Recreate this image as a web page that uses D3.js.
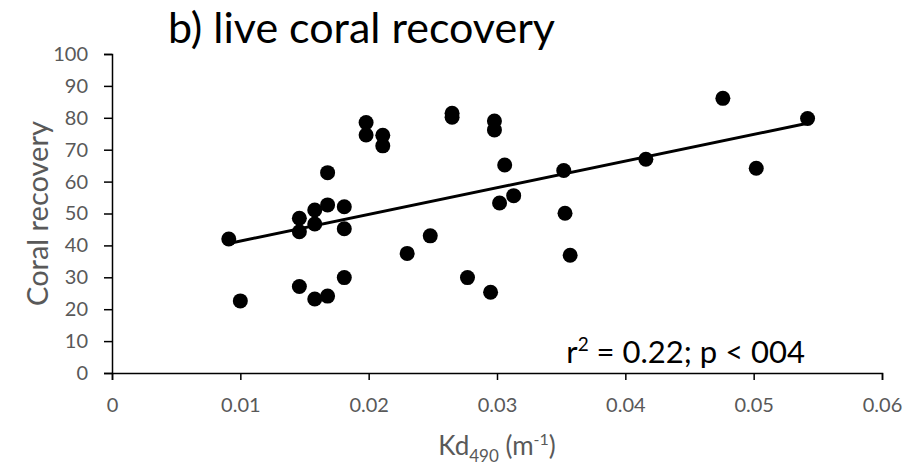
<!DOCTYPE html>
<html>
<head>
<meta charset="utf-8">
<script src="https://cdn.jsdelivr.net/npm/d3@7"></script>
<style>
	body { margin: 0; background: #fff; }
	text { font-family: Lato, "Open Sans", sans-serif; }
	.tick text { fill: #595959; font-size: 20px; }
</style>
</head>
<body>
<div id="chart"></div>
<script>
// Kd490 (m-1) and coral recovery
const kd = [0.0091, 0.0100, 0.0146, 0.0146, 0.0146, 0.0158, 0.0158, 0.0158,
	0.0168, 0.0168, 0.0168, 0.0181, 0.0181, 0.0181, 0.0198, 0.0198, 0.0211,
	0.0211, 0.0230, 0.0248, 0.0265, 0.0265, 0.0277, 0.0295, 0.0298, 0.0298,
	0.0306, 0.0302, 0.0313, 0.0352, 0.0353, 0.0357, 0.0416, 0.0476, 0.0502,
	0.0542];
const recovery = [42.0, 22.6, 48.5, 44.3, 27.1, 51.1, 46.7, 23.2,
	62.8, 52.7, 24.1, 52.1, 45.2, 29.9, 78.5, 74.6, 74.5,
	71.2, 37.5, 43.0, 81.4, 80.2, 29.9, 25.3, 79.0, 76.2,
	65.2, 53.3, 55.6, 63.5, 50.1, 36.9, 67.0, 86.1, 64.2,
	79.8];
const xTicks = [0, 0.01, 0.02, 0.03, 0.04, 0.05, 0.06];
const yTicks = [0, 10, 20, 30, 40, 50, 60, 70, 80, 90, 100];

const width = 908, height = 466;
const margin = {top: 54, right: 26, bottom: 93, left: 112};

const points = kd.map((k, i) => ({k: k, r: recovery[i]}));

const svg = d3.select("#chart")
	.append("svg")
	.attr("width", width)
	.attr("height", height);

let x = d3.scaleLinear()
	.domain([0, 0.06])
	.range([margin.left, width - margin.right]);

let y = d3.scaleLinear()
	.domain([0, 100])
	.range([height - margin.bottom, margin.top]);

// x axis
svg.append("g")
	.attr("transform", `translate(0,${y(0)})`)
	.call(d3.axisBottom(x).tickValues(xTicks).tickFormat(d => d === 0 ? "0" : d3.format(".2f")(d)).tickSize(7).tickSizeOuter(7))
	.call(g => g.select(".domain").attr("stroke", "#000").attr("stroke-width", 1.5))
	.call(g => g.selectAll(".tick line").attr("stroke", "#000").attr("stroke-width", 1.5))
	.call(g => g.selectAll(".tick text").attr("dy", null).attr("y", 39));

// y axis
svg.append("g")
	.attr("transform", `translate(${x(0)},0)`)
	.call(d3.axisLeft(y).tickValues(yTicks).tickSize(8).tickSizeOuter(8))
	.call(g => g.select(".domain").attr("stroke", "#000").attr("stroke-width", 1.5))
	.call(g => g.selectAll(".tick line").attr("stroke", "#000").attr("stroke-width", 1.5))
	.call(g => g.selectAll(".tick text").attr("x", -24));

// least-squares trend line
const mx = d3.mean(kd), my = d3.mean(recovery);
const slope = d3.sum(points, d => (d.k - mx) * (d.r - my)) / d3.sum(points, d => (d.k - mx) ** 2);
const icpt = my - slope * mx;
const ext = d3.extent(kd);

svg.append("line")
	.attr("x1", x(ext[0]))
	.attr("y1", y(icpt + slope * ext[0]))
	.attr("x2", x(ext[1]))
	.attr("y2", y(icpt + slope * ext[1]))
	.attr("stroke", "#000")
	.attr("stroke-width", 3);

svg.append("g")
	.selectAll("circle")
	.data(points)
	.join("circle")
	.attr("cx", d => x(d.k))
	.attr("cy", d => y(d.r))
	.attr("r", 7.5)
	.attr("fill", "#000");

// title
svg.append("text")
	.attr("x", 168)
	.attr("y", 43)
	.attr("font-size", 43)
	.attr("fill", "#000")
	.text("b) live coral recovery");

// annotation
let ann = svg.append("text")
	.attr("x", 805)
	.attr("y", 363)
	.attr("text-anchor", "end")
	.attr("font-size", 31)
	.attr("fill", "#000");
ann.append("tspan").text("r");
ann.append("tspan").attr("font-size", 19).attr("dy", -12).text("2");
ann.append("tspan").attr("dy", 12).text(" = 0.22; p < 004");

// axis titles
svg.append("text")
	.attr("transform", `translate(48,${(y(0) + y(100)) / 2}) rotate(-90)`)
	.attr("text-anchor", "middle")
	.attr("font-size", 29)
	.attr("fill", "#595959")
	.text("Coral recovery");

let xt = svg.append("text")
	.attr("x", 497)
	.attr("y", 455)
	.attr("text-anchor", "middle")
	.attr("font-size", 26)
	.attr("fill", "#595959");
xt.append("tspan").text("Kd");
xt.append("tspan").attr("font-size", 17).attr("dy", 7).text("490");
xt.append("tspan").attr("dy", -7).text(" (m");
xt.append("tspan").attr("font-size", 16).attr("dy", -10).text("-1");
xt.append("tspan").attr("dy", 10).text(")");
</script>
</body>
</html>
